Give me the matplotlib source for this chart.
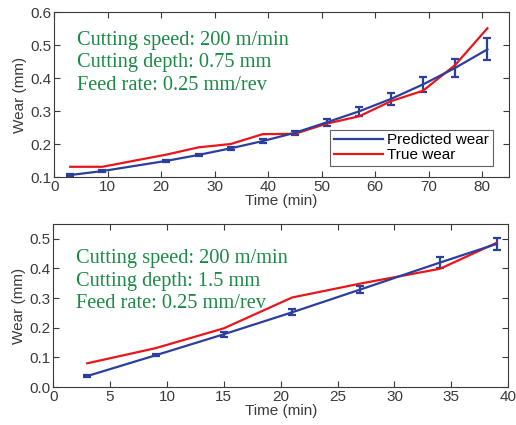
import numpy as np
import matplotlib.pyplot as plt
from matplotlib.lines import Line2D

# top panel: depth 0.75 mm
t1 = [3, 9, 21, 27, 33, 39, 45, 51, 57, 63, 69, 75, 81]
pred1 = [0.106, 0.118, 0.149, 0.167, 0.187, 0.209, 0.234, 0.266, 0.299, 0.337, 0.381, 0.431, 0.487]
err1 = [0.002, 0.002, 0.002, 0.003, 0.004, 0.005, 0.007, 0.010, 0.013, 0.018, 0.022, 0.028, 0.033]
true1 = [0.131, 0.131, 0.168, 0.190, 0.200, 0.230, 0.231, 0.262, 0.284, 0.330, 0.362, 0.440, 0.551]

# bottom panel: depth 1.5 mm
t2 = [3, 9, 15, 21, 27, 34, 39]
pred2 = [0.037, 0.107, 0.178, 0.252, 0.329, 0.420, 0.483]
err2 = [0.002, 0.004, 0.008, 0.010, 0.012, 0.018, 0.020]
true2 = [0.080, 0.131, 0.198, 0.302, 0.349, 0.399, 0.487]

blue = '#2b3f9c'
red = '#e8161b'
green = '#1a8a45'
axc = '#3a3a3a'
fs = 11

plt.rcParams['font.family'] = 'Liberation Sans'

fig = plt.figure(figsize=(5.16, 4.25), dpi=100)
ax1 = fig.add_axes([0.105, 0.5835, 0.881, 0.388])
ax2 = fig.add_axes([0.103, 0.0894, 0.882, 0.3835])

def style(ax):
    for s in ax.spines.values():
        s.set_color(axc)
        s.set_linewidth(0.8)
    ax.tick_params(direction='in', top=True, right=True, colors=axc,
                   labelsize=fs, length=4, width=0.8, pad=2)
    ax.set_xlabel('Time (min)', fontsize=fs, color=axc, labelpad=0)
    ax.set_ylabel('Wear (mm)', fontsize=fs, color=axc, labelpad=2)

ax1.errorbar(t1, pred1, yerr=err1, color=blue, lw=1.6, capsize=3,
             capthick=1.6, elinewidth=1.6)
ax1.plot(t1, true1, color=red, lw=1.6)
ax1.set_xlim(0, 85)
ax1.set_ylim(0.1, 0.6)
ax1.set_xticks(np.arange(0, 81, 10))
ax1.set_yticks(np.arange(0.1, 0.61, 0.1))
style(ax1)
handles = [Line2D([], [], color=blue, lw=1.6), Line2D([], [], color=red, lw=1.6)]
leg = ax1.legend(handles, ['Predicted wear', 'True wear'], loc='lower right',
                 bbox_to_anchor=(0.965, 0.067), fontsize=fs, fancybox=False,
                 edgecolor=axc, handlelength=3.2, handletextpad=0.3,
                 borderpad=0.25, labelspacing=0.05, borderaxespad=0)
leg.get_frame().set_linewidth(0.8)
ax1.text(4.3, 0.543, 'Cutting speed: 200 m/min\nCutting depth: 0.75 mm\nFeed rate: 0.25 mm/rev',
         family='Liberation Serif', fontsize=14.7, color=green, va='top',
         linespacing=1.25)

ax2.errorbar(t2, pred2, yerr=err2, color=blue, lw=1.6, capsize=3,
             capthick=1.6, elinewidth=1.6)
ax2.plot(t2, true2, color=red, lw=1.6)
ax2.set_xlim(0, 40)
ax2.set_ylim(0, 0.55)
ax2.set_xticks(np.arange(0, 41, 5))
ax2.set_yticks(np.arange(0, 0.51, 0.1))
style(ax2)
ax2.text(2.0, 0.465, 'Cutting speed: 200 m/min\nCutting depth: 1.5 mm\nFeed rate: 0.25 mm/rev',
         family='Liberation Serif', fontsize=14.7, color=green, va='top',
         linespacing=1.25)

fig.savefig('out.png', dpi=100)
